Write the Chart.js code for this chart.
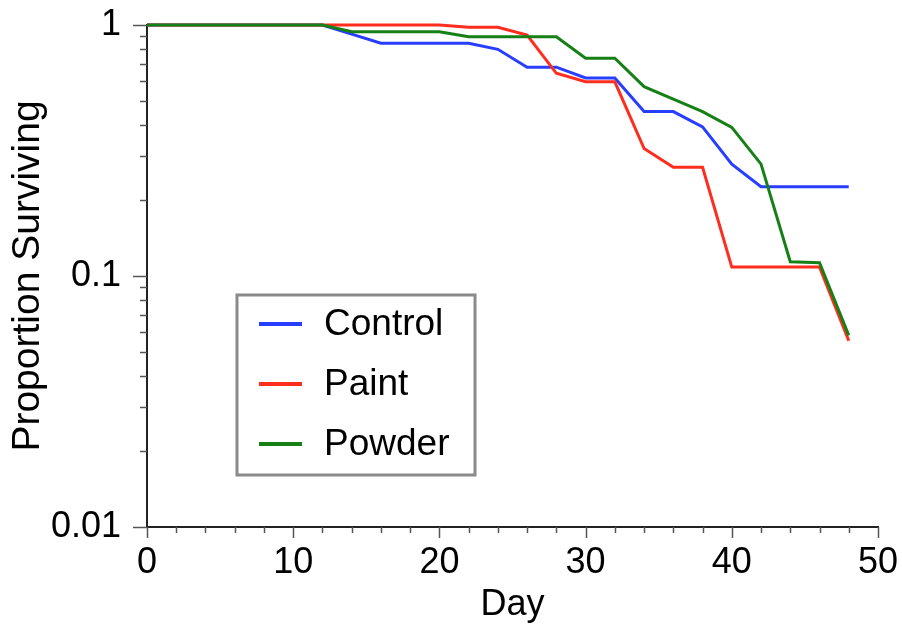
<!DOCTYPE html>
<html><head><meta charset="utf-8">
<script src="https://cdn.jsdelivr.net/npm/chart.js@4/dist/chart.umd.min.js"></script>
<style>html,body{margin:0;padding:0;background:#fff}#wrap{width:902px;height:629px;position:relative}</style>
</head><body><div id="wrap"><canvas id="c" width="902" height="629"></canvas></div>
<script>
const days    = [0,2,4,6,8,10,12,14,16,18,20,22,24,26,28,30,32,34,36,38,40,42,44,46,48];
const control = [1,1,1,1,1,1,1,0.92,0.846,0.846,0.846,0.846,0.80,0.679,0.679,0.615,0.615,0.452,0.452,0.393,0.279,0.227,0.227,0.227,0.227];
const paint   = [1,1,1,1,1,1,1,1,1,1,1,0.979,0.979,0.912,0.642,0.594,0.594,0.322,0.271,0.271,0.1085,0.1085,0.1085,0.1085,0.0552];
const powder  = [1,1,1,1,1,1,1,0.94,0.94,0.94,0.94,0.898,0.898,0.898,0.898,0.737,0.737,0.568,0.507,0.452,0.391,0.279,0.114,0.113,0.058];
const seriesNames = ['Control','Paint','Powder'];
const seriesColors = ['rgb(40,62,255)','rgb(255,45,30)','rgb(22,128,22)'];
const xMajorTicks = [0,10,20,30,40,50];
const yMajorTicks = [0.01,0.1,1];
const yMajorLabels = ['0.01','0.1','1'];

const FONT = '"Liberation Sans", Arial, Helvetica, sans-serif';

function pts(vals){ return days.map((d,i)=>({x:d,y:vals[i]})); }
function zeroPad(s){ s.paddingLeft=0; s.paddingRight=0; s.paddingTop=0; s.paddingBottom=0; }

const tickPlugin = {
  id:'tickMarks',
  afterDraw(chart){
    const ctx = chart.ctx;
    const xs = chart.scales.x, ys = chart.scales.y;
    const area = chart.chartArea;
    ctx.save();
    ctx.strokeStyle = '#555';
    ctx.lineWidth = 1.5;
    xs.ticks.forEach(t=>{
      const px = Math.round(xs.getPixelForValue(t.value))+0.5;
      const len = t.major ? 11 : 6;
      ctx.beginPath(); ctx.moveTo(px, area.bottom); ctx.lineTo(px, area.bottom+len); ctx.stroke();
    });
    ys.ticks.forEach(t=>{
      const py = Math.round(ys.getPixelForValue(t.value))+0.5;
      const len = t.major ? 14 : 7;
      ctx.beginPath(); ctx.moveTo(area.left, py); ctx.lineTo(area.left-len, py); ctx.stroke();
    });
    // legend box
    const bx=237, by=295, bw=238, bh=180;
    ctx.fillStyle='#fff';
    ctx.fillRect(bx,by,bw,bh);
    ctx.strokeStyle='#8a8a8a'; ctx.lineWidth=3;
    ctx.strokeRect(bx,by,bw,bh);
    ctx.font = '37px '+FONT;
    ctx.textBaseline='middle';
    ctx.textAlign='left';
    chart.data.datasets.forEach((ds,i)=>{
      const y = 324 + i*60;
      ctx.strokeStyle = ds.borderColor; ctx.lineWidth = 4;
      ctx.beginPath(); ctx.moveTo(259,y); ctx.lineTo(302,y); ctx.stroke();
      ctx.fillStyle='#000';
      ctx.fillText(ds.label, 324, y+1);
    });
    ctx.restore();
  }
};

const chart = new Chart(document.getElementById('c'), {
  type:'line',
  data:{
    datasets:[
      {label:seriesNames[0], data:pts(control), borderColor:seriesColors[0], order:2},
      {label:seriesNames[1], data:pts(paint), borderColor:seriesColors[1], order:1},
      {label:seriesNames[2], data:pts(powder), borderColor:seriesColors[2], order:0}
    ].map(d=>Object.assign(d,{borderWidth:3, pointRadius:0, tension:0, fill:false, clip:false, borderJoinStyle:'miter'}))
  },
  options:{
    responsive:false, animation:false, devicePixelRatio:1,
    layout:{padding:{top:25,right:24,left:0,bottom:0}},
    plugins:{legend:{display:false}, tooltip:{enabled:false}},
    scales:{
      x:{
        type:'linear', min:0, max:50,
        afterBuildTicks(s){ const t=[]; for(let v=0; v<=50; v+=2) t.push({value:v, major:xMajorTicks.includes(v)}); s.ticks=t; },
        afterFit(s){ s.height=102; zeroPad(s); },
        grid:{display:false, drawTicks:false},
        border:{display:true, color:'#222', width:2},
        ticks:{autoSkip:false, maxRotation:0, padding:14, color:'#000', font:{family:FONT, size:36},
          callback:(v)=> xMajorTicks.includes(v) ? String(v) : ''},
        title:{display:true, text:'Day', color:'#000', font:{family:FONT, size:36, lineHeight:1}, padding:{top:0,bottom:6}}
      },
      y:{
        type:'logarithmic', min:0.01, max:1,
        afterBuildTicks(s){ const t=[]; [0.01,0.1].forEach(d=>{ for(let k=1;k<=9;k++){ const v=Number((k*d).toPrecision(3)); t.push({value:v, major:k===1}); } }); t.push({value:1, major:true}); s.ticks=t; },
        afterFit(s){ s.width=147; zeroPad(s); },
        grid:{display:false, drawTicks:false},
        border:{display:true, color:'#222', width:2},
        ticks:{autoSkip:false, padding:26, color:'#000', font:{family:FONT, size:36},
          callback:(v)=>{ const i=yMajorTicks.findIndex(m=>Math.abs(m-v)<1e-9); return i>=0 ? yMajorLabels[i] : ''; }},
        title:{display:true, text:'Proportion Surviving', color:'#000', font:{family:FONT, size:39, lineHeight:1}, padding:{top:9,bottom:0}}
      }
    }
  },
  plugins:[tickPlugin]
});
</script></body></html>
